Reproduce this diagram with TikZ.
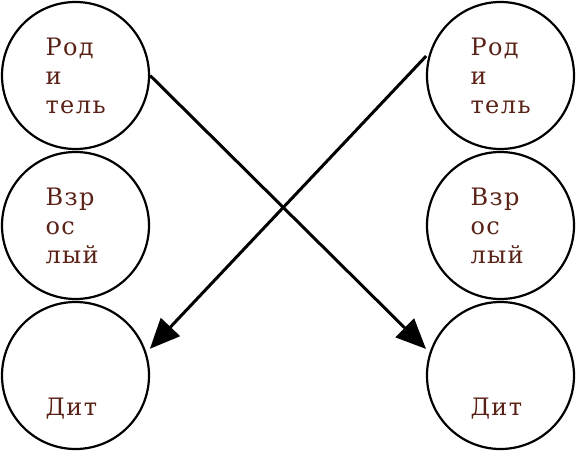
\documentclass[tikz,border=0pt]{standalone}
\usepackage{fontspec}
\setmainfont[LetterSpace=6]{DejaVu Serif}
\usepackage{tikz}
\usetikzlibrary{arrows.meta}
\definecolor{textbrown}{RGB}{90,34,22}

\tikzset{
  agecircle/.style={circle,draw,line width=2.2pt,minimum size=147pt,inner sep=0pt,
    text width=60pt,align=left,text=textbrown,
    font=\fontsize{24}{29}\selectfont},
  swaparrow/.style={-{Triangle[length=30pt,width=26pt]},line width=3pt,shorten >=5pt}
}

\begin{document}
\begin{tikzpicture}[x=1pt,y=1pt]
            \useasboundingbox (0,0) rectangle (576,451);

            % Draw circles
            \node[agecircle] (parentL) at (75.5,375.5) {Род\\и\\тель};
            \node[agecircle] (adultL) at (75.5,225.5) {Взр\\ос\\лый};
            \node[agecircle] (childL) at (75.5,75.5) {\rule{0pt}{26pt}\\\mbox{}\\Дит};
            \node[agecircle] (parentR) at (500.5,375.5) {Род\\и\\тель};
            \node[agecircle] (adultR) at (500.5,225.5) {Взр\\ос\\лый};
            \node[agecircle] (childR) at (500.5,75.5) {\rule{0pt}{26pt}\\\mbox{}\\Дит};

            % Connect circles with crossing arrows
            \draw[swaparrow] (parentL.east) -- (childR.162);
            \draw[swaparrow, shorten <=5pt] (parentR.162) -- (childL.18);
          \end{tikzpicture}
\end{document}
